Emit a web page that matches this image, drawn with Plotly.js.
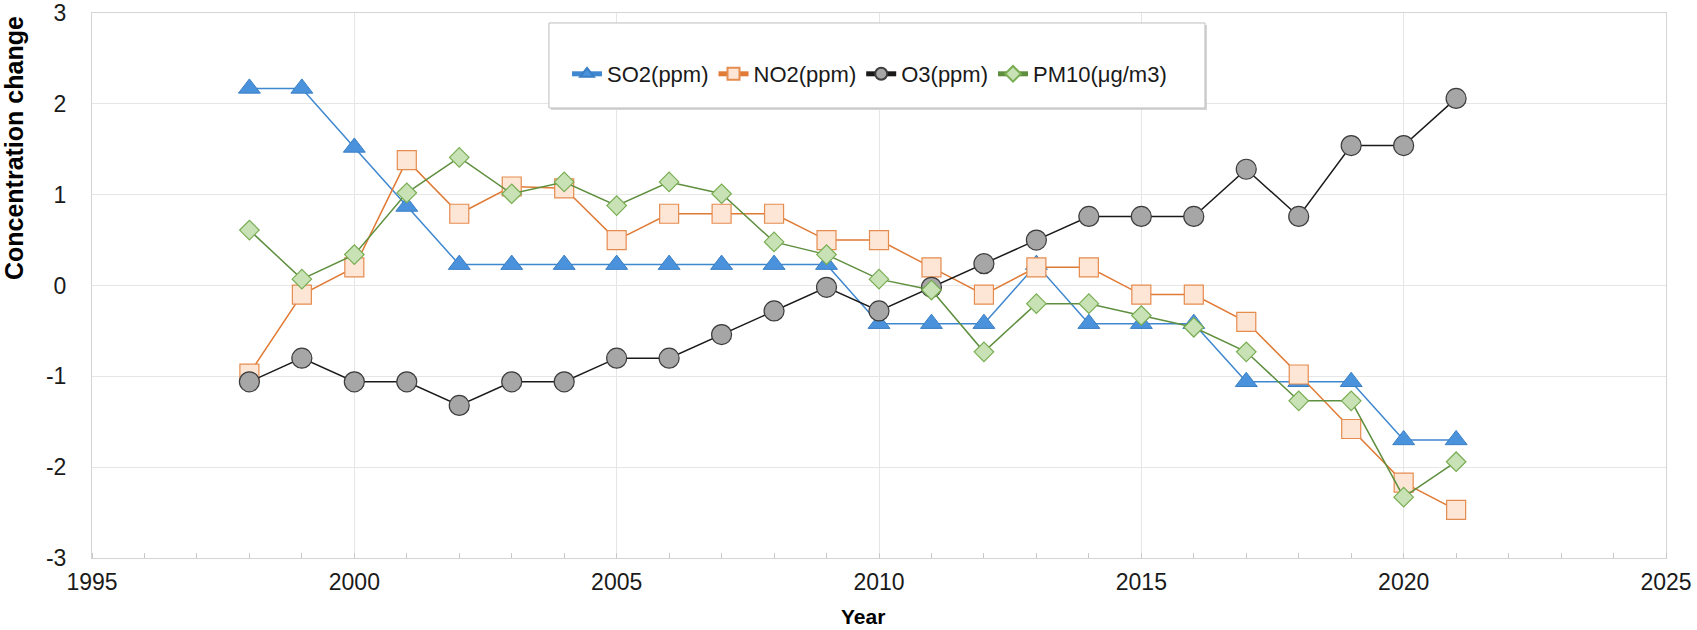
<!DOCTYPE html>
<html>
<head>
<meta charset="utf-8">
<script src="https://cdn.plot.ly/plotly-3.0.1.min.js"></script>
<style>html,body{margin:0;padding:0;background:#fff;}#chart{width:1697px;height:630px;}</style>
</head>
<body>
<div id="chart"></div>
<script>
const years = [1998,1999,2000,2001,2002,2003,2004,2005,2006,2007,2008,2009,2010,2011,2012,2013,2014,2015,2016,2017,2018,2019,2020,2021];
const so2  = [2.17,2.17,1.52,0.87,0.23,0.23,0.23,0.23,0.23,0.23,0.23,0.23,-0.42,-0.42,-0.42,0.23,-0.42,-0.42,-0.42,-1.06,-1.06,-1.06,-1.70,-1.70];
const no2  = [-0.97,-0.10,0.20,1.38,0.79,1.09,1.07,0.50,0.79,0.79,0.79,0.50,0.50,0.20,-0.10,0.20,0.20,-0.10,-0.10,-0.40,-0.98,-1.58,-2.17,-2.47];
const o3   = [-1.06,-0.80,-1.06,-1.06,-1.32,-1.06,-1.06,-0.80,-0.80,-0.54,-0.28,-0.02,-0.28,-0.02,0.24,0.50,0.76,0.76,0.76,1.28,0.76,1.54,1.54,2.06];
const pm10 = [0.61,0.07,0.34,1.02,1.41,1.01,1.14,0.88,1.14,1.01,0.48,0.34,0.07,-0.05,-0.73,-0.20,-0.20,-0.33,-0.46,-0.73,-1.27,-1.27,-2.33,-1.94];
const seriesNames = ['SO2(ppm)','NO2(ppm)','O3(ppm)','PM10(\u03bcg/m3)'];
const xTickVals = [1995,2000,2005,2010,2015,2020,2025];
const yTickVals = [-3,-2,-1,0,1,2,3];
const xTitle = 'Year';
const yTitle = 'Concentration change';

const FONT = 'Liberation Sans, Arial, sans-serif';

const traces = [
  {x: years, y: so2, name: seriesNames[0], mode: 'lines+markers',
   line: {color: '#3f87cf', width: 1.5},
   marker: {symbol: 'triangle-up', size: 19, color: '#4a92db', line: {color: '#3a7fc4', width: 1}}},
  {x: years, y: no2, name: seriesNames[1], mode: 'lines+markers',
   line: {color: '#e07a35', width: 1.5},
   marker: {symbol: 'square', size: 19, color: '#fde6d6', line: {color: '#e58c4f', width: 1.2}}},
  {x: years, y: o3, name: seriesNames[2], mode: 'lines+markers',
   line: {color: '#1a1a1a', width: 1.5},
   marker: {symbol: 'circle', size: 20, color: '#a6a6a6', line: {color: '#3c3c3c', width: 1.2}}},
  {x: years, y: pm10, name: seriesNames[3], mode: 'lines+markers',
   line: {color: '#5e8f3e', width: 1.5},
   marker: {symbol: 'diamond', size: 15, color: '#c8e2b6', line: {color: '#78ad52', width: 1.2}}}
];

const layout = {
  width: 1697, height: 630,
  margin: {l: 92, r: 31, t: 13, b: 72},
  paper_bgcolor: '#ffffff', plot_bgcolor: '#ffffff',
  font: {family: FONT, size: 22, color: '#1a1a1a'},
  showlegend: true,
  legend: {
    orientation: 'h', x: 0.3018, xanchor: 'left', y: 0.9266, yanchor: 'top',
    bgcolor: 'rgba(0,0,0,0)', borderwidth: 0,
    font: {family: FONT, size: 22, color: '#1a1a1a'},
    itemsizing: 'constant', traceorder: 'normal'
  },
  shapes: [
    {type: 'rect', xref: 'paper', yref: 'paper', layer: 'above',
     x0: 0.2916, x1: 0.7084, y0: 0.8220, y1: 0.9780,
     fillcolor: '#d6d6d6', line: {width: 0}},
    {type: 'rect', xref: 'paper', yref: 'paper', layer: 'above',
     x0: 0.2903, x1: 0.7071, y0: 0.8257, y1: 0.9817,
     fillcolor: '#ffffff', line: {color: '#bdbdbd', width: 1}}
  ],
  xaxis: {
    range: [1995, 2025], tickmode: 'array', tickvals: xTickVals,
    ticktext: xTickVals.map(String),
    showgrid: true, gridcolor: '#e6e6e6', gridwidth: 1,
    showline: true, linecolor: '#d4d4d4', linewidth: 1, mirror: true,
    zeroline: false, ticks: '', ticklabelstandoff: 3,
    tickfont: {family: FONT, size: 23, color: '#1a1a1a'},
    minor: {dtick: 1, tick0: 1995, ticks: 'inside', ticklen: 5, tickcolor: '#c8c8c8', showgrid: false}
  },
  yaxis: {
    range: [-3, 3], tickmode: 'array', tickvals: yTickVals,
    ticktext: yTickVals.map(String),
    showgrid: true, gridcolor: '#e6e6e6', gridwidth: 1,
    showline: true, linecolor: '#d4d4d4', linewidth: 1, mirror: true,
    zeroline: false, ticks: '', ticklabelstandoff: 20,
    tickfont: {family: FONT, size: 23, color: '#1a1a1a'}
  },
  annotations: [
    {text: '<b>' + yTitle + '</b>', xref: 'paper', yref: 'paper', x: -0.0496, y: 0.752,
     xanchor: 'center', yanchor: 'middle', textangle: -90, showarrow: false,
     font: {family: FONT, size: 25, color: '#000'}},
    {text: '<b>' + xTitle + '</b>', xref: 'paper', yref: 'paper', x: 0.4896, y: -0.1065,
     xanchor: 'center', yanchor: 'middle', showarrow: false,
     font: {family: FONT, size: 21, color: '#000'}}
  ]
};

Plotly.newPlot('chart', traces, layout, {displayModeBar: false, responsive: false});
</script>
</body>
</html>
